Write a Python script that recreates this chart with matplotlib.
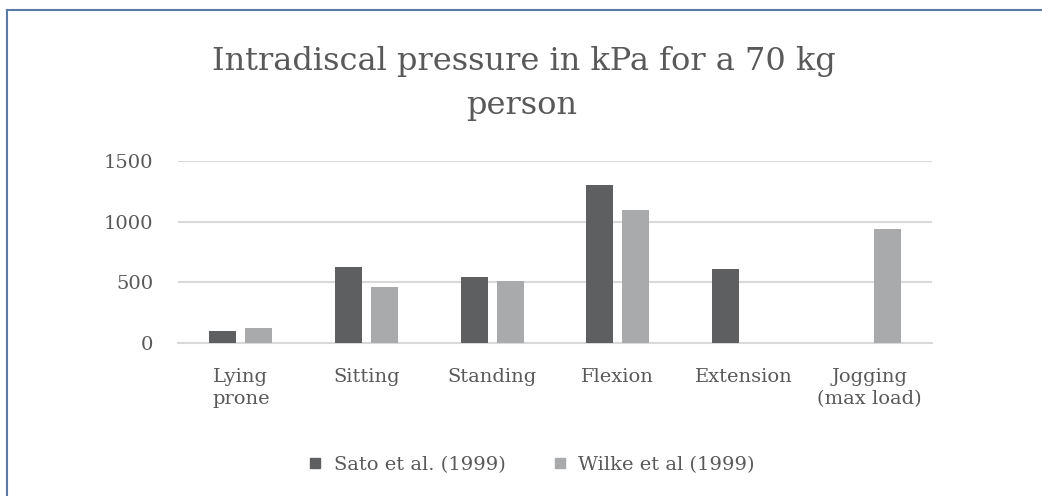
import matplotlib
matplotlib.use("Agg")
import matplotlib.pyplot as plt
import numpy as np
from matplotlib.lines import Line2D

categories = ["Lying\nprone", "Sitting", "Standing", "Flexion", "Extension", "Jogging\n(max load)"]
sato = [100, 630, 540, 1300, 610, 0]
wilke = [120, 460, 510, 1100, 0, 940]
series_names = ["Sato et al. (1999)", "Wilke et al (1999)"]
yticks = [0, 500, 1000, 1500]

dark = "#5e5f61"
light = "#a9aaac"
text_c = "#595959"
grid_c = "#d9d9d9"

plt.rcParams['font.family'] = ['DejaVu Serif']

fig = plt.figure(figsize=(10.42, 4.96), dpi=100)
ax = fig.add_axes([178/1042, 1-343/496, (932-178)/1042, (343-161)/496])

x = np.arange(len(categories))
w = 0.215
off = 0.143
ax.bar(x - off, sato, width=w, color=dark, zorder=3, label=series_names[0])
ax.bar(x + off, wilke, width=w, color=light, zorder=3, label=series_names[1])

ax.set_xlim(-0.5, len(categories) - 0.5)
ax.set_ylim(0, 1500)
ax.set_yticks(yticks)
ax.set_yticklabels([str(v) for v in yticks])
ax.yaxis.grid(True, color=grid_c, linewidth=1.5, zorder=0)
for s in ["top", "right", "left"]:
    ax.spines[s].set_visible(False)
ax.spines["bottom"].set_color(grid_c)
ax.spines["bottom"].set_linewidth(1.5)
ax.set_xticks(x)
ax.set_xticklabels(categories, fontsize=14, color=text_c, linespacing=1.3)
ax.tick_params(axis="both", length=0, labelsize=14, colors=text_c)
ax.tick_params(axis="x", pad=18)
ax.tick_params(axis="y", pad=18)

fig.text(524/1042, 1-70/496, "Intradiscal pressure in kPa for a 70 kg", ha="center", va="baseline",
         fontsize=23, color=text_c)
fig.text(522/1042, 1-114/496, "person", ha="center", va="baseline", fontsize=23, color=text_c)

handles = [Line2D([0], [0], marker="s", linestyle="none", markersize=7, color=dark),
           Line2D([0], [0], marker="s", linestyle="none", markersize=7, color=light)]
fig.legend(handles, series_names, loc="center", bbox_to_anchor=(530/1042, 1-465/496), ncol=2,
           frameon=False, fontsize=14, labelcolor=text_c, handletextpad=0.45, columnspacing=2.3,
           handlelength=1.0)

border_c = "#5b7aa6"
fig.add_artist(Line2D([7/1042, 1.0], [1-10/496, 1-10/496], transform=fig.transFigure, color=border_c, linewidth=1.5))
fig.add_artist(Line2D([7/1042, 7/1042], [1-10/496, 0], transform=fig.transFigure, color=border_c, linewidth=1.5))

fig.savefig("out.png", dpi=100, facecolor="white")
